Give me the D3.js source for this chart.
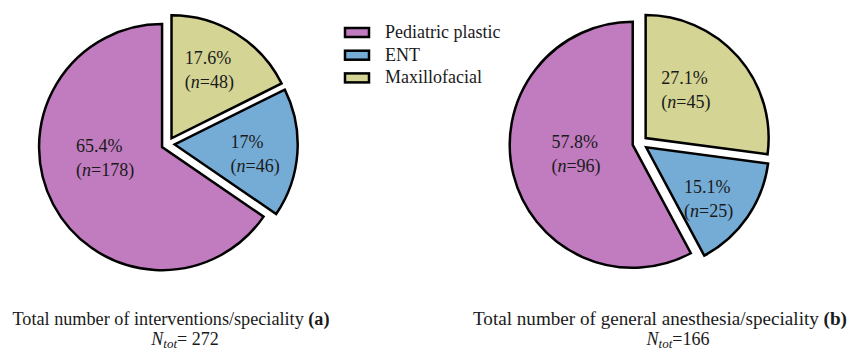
<!DOCTYPE html>
<html>
<head>
<meta charset="utf-8">
<script src="https://cdn.jsdelivr.net/npm/d3@7"></script>
<style>
  html, body { margin: 0; padding: 0; background: #ffffff; }
  svg { display: block; }
  text { font-family: "Palatino Linotype", "Book Antiqua", Palatino, "Liberation Serif", serif; fill: #1a1a1a; }
</style>
</head>
<body>
<svg id="chart" width="851" height="351"></svg>
<script>
// Specialities (legend order) and their colours
const categories = ["Pediatric plastic", "ENT", "Maxillofacial"];
const colors = ["#C17CC0", "#75ACD6", "#D4D494"];

// Clockwise order of the slices, starting at 12 o'clock
const sliceOrder = ["Maxillofacial", "ENT", "Pediatric plastic"];

// (a) interventions per speciality
const interventionsN = [178, 46, 48];
const interventionsPct = ["65.4%", "17%", "17.6%"];
const interventionsTotal = 272;

// (b) general anesthesia per speciality
const anesthesiaN = [96, 25, 45];
const anesthesiaPct = ["57.8%", "15.1%", "27.1%"];
const anesthesiaTotal = 166;

const svg = d3.select("#chart");
const radius = 123;
const color = d3.scaleOrdinal().domain(categories).range(colors);

const charts = [
  {
    counts: interventionsN, pcts: interventionsPct, total: interventionsTotal,
    cx: 168, cy: 144, explode: 6.7,
    // label placement: [fraction of radius, angle shift in degrees]
    labelPos: { "Pediatric plastic": [0.475, 15], "ENT": [0.66, 4], "Maxillofacial": [0.62, -2] },
    caption: "Total number of interventions/speciality ", tag: "(a)",
    capX: 171, capLen: 317, totX: 185, totSep: "= "
  },
  {
    counts: anesthesiaN, pcts: anesthesiaPct, total: anesthesiaTotal,
    cx: 640, cy: 143, explode: 7.5,
    labelPos: { "Pediatric plastic": [0.47, 3], "ENT": [0.67, 6], "Maxillofacial": [0.5, -8] },
    caption: "Total number of general anesthesia/speciality ", tag: "(b)",
    capX: 660, capLen: 374, totX: 678, totSep: "="
  }
];

const pie = d3.pie()
  .value(d => d.n)
  .sort((a, b) => sliceOrder.indexOf(a.cat) - sliceOrder.indexOf(b.cat));

const arc = d3.arc().innerRadius(0).outerRadius(radius);

charts.forEach(ch => {
  const rows = categories.map((cat, i) => ({ cat, n: ch.counts[i], pct: ch.pcts[i] }));
  const arcs = pie(rows);
  const g = svg.append("g").attr("transform", `translate(${ch.cx},${ch.cy})`);

  const slice = g.selectAll("g.slice").data(arcs).join("g")
    .attr("class", "slice")
    .attr("transform", d => {
      const mid = (d.startAngle + d.endAngle) / 2;
      return `translate(${ch.explode * Math.sin(mid)},${-ch.explode * Math.cos(mid)})`;
    });

  slice.append("path")
    .attr("d", arc)
    .attr("fill", d => color(d.data.cat))
    .attr("stroke", "#000")
    .attr("stroke-width", 2.5)
    .attr("stroke-linejoin", "miter");

  // Two-line value labels, left-aligned within their block
  slice.each(function (d) {
    const [frac, shift] = ch.labelPos[d.data.cat];
    const a = (d.startAngle + d.endAngle) / 2 + shift * Math.PI / 180;
    const lx = frac * radius * Math.sin(a);
    const ly = -frac * radius * Math.cos(a);
    const lab = d3.select(this).append("g");
    const t1 = lab.append("text").attr("y", ly - 8).attr("font-size", 18).text(d.data.pct);
    const t2 = lab.append("text").attr("y", ly + 16).attr("font-size", 18);
    t2.append("tspan").text("(");
    t2.append("tspan").attr("font-style", "italic").text("n");
    t2.append("tspan").text(`=${d.data.n})`);
    const w = Math.max(t1.node().getComputedTextLength(), t2.node().getComputedTextLength());
    t1.attr("x", lx - w / 2);
    t2.attr("x", lx - w / 2);
  });

  // Caption and total
  const cap = svg.append("text")
    .attr("x", ch.capX).attr("y", 325)
    .attr("text-anchor", "middle")
    .attr("font-size", 18)
    .attr("textLength", ch.capLen)
    .attr("lengthAdjust", "spacingAndGlyphs");
  cap.append("tspan").text(ch.caption);
  cap.append("tspan").attr("font-weight", "bold").text(ch.tag);

  const tot = svg.append("text")
    .attr("x", ch.totX).attr("y", 345)
    .attr("text-anchor", "middle")
    .attr("font-size", 18);
  tot.append("tspan").attr("font-style", "italic").text("N");
  tot.append("tspan").attr("font-style", "italic").attr("font-size", 13).attr("dy", 3).text("tot");
  tot.append("tspan").attr("dy", -3).text(ch.totSep + ch.total);
});

// Legend
const legend = svg.append("g").attr("transform", "translate(345,28)");
const item = legend.selectAll("g").data(categories).join("g")
  .attr("transform", (d, i) => `translate(0,${i * 22.7})`);
item.append("rect")
  .attr("width", 24).attr("height", 9)
  .attr("fill", d => color(d))
  .attr("stroke", "#000").attr("stroke-width", 2.5);
item.append("text")
  .attr("x", 40).attr("y", 10)
  .attr("font-size", 18)
  .text(d => d);
</script>
</body>
</html>
